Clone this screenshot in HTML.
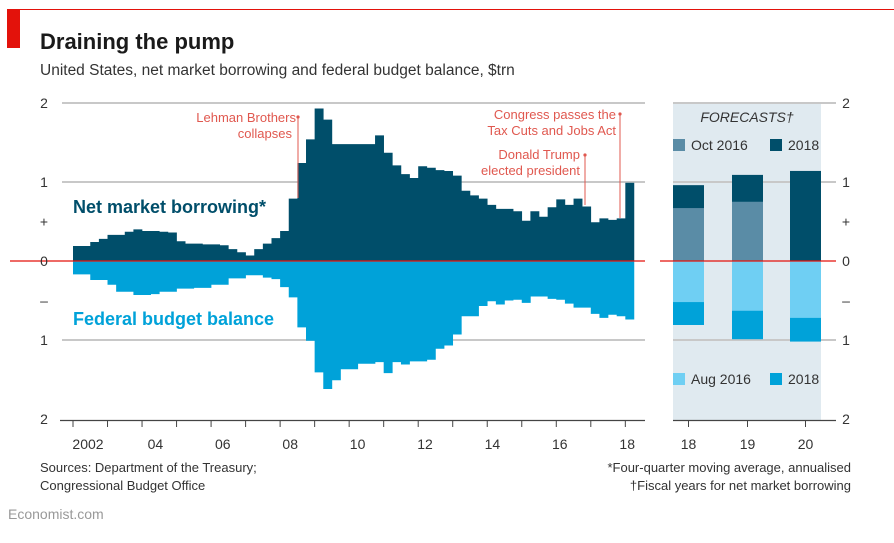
<!DOCTYPE html>
<html><head><meta charset="utf-8"><style>
body{margin:0;background:#fff;width:894px;height:538px;overflow:hidden;font-family:"Liberation Sans",sans-serif}
svg text{font-family:"Liberation Sans",sans-serif}
</style></head><body>
<svg id="chart" width="894" height="538" xmlns="http://www.w3.org/2000/svg">
<line x1="7" y1="9.5" x2="894" y2="9.5" stroke="#e3120b" stroke-width="1"/>
<rect x="7" y="10" width="13" height="38" fill="#e3120b"/>
<text x="40" y="49" font-size="22" font-weight="bold" fill="#1a1a1a">Draining the pump</text>
<text x="40" y="75" font-size="15.5" fill="#333">United States, net market borrowing and federal budget balance, $trn</text>
<rect x="673" y="103" width="148" height="317" fill="#e0eaf0"/>
<g id="grid"></g>
<g id="bars"></g>
<g id="fbars"></g>
<g id="axes"></g>
<text x="296" y="122" font-size="13" fill="#e0584f" text-anchor="end">Lehman Brothers</text>
<text x="292" y="138" font-size="13" fill="#e0584f" text-anchor="end">collapses</text>
<line x1="298" y1="117" x2="298" y2="198" stroke="#e0584f"/>
<circle cx="298" cy="117" r="1.6" fill="#e0584f"/>
<text x="616" y="119" font-size="13" fill="#e0584f" text-anchor="end">Congress passes the</text>
<text x="616" y="135" font-size="13" fill="#e0584f" text-anchor="end">Tax Cuts and Jobs Act</text>
<line x1="620" y1="114" x2="620" y2="218" stroke="#e0584f"/>
<circle cx="620" cy="114" r="1.6" fill="#e0584f"/>
<text x="580" y="159" font-size="13" fill="#e0584f" text-anchor="end">Donald Trump</text>
<text x="580" y="175" font-size="13" fill="#e0584f" text-anchor="end">elected president</text>
<line x1="585" y1="155" x2="585" y2="205" stroke="#e0584f"/>
<circle cx="585" cy="155" r="1.6" fill="#e0584f"/>
<text x="73" y="213" font-size="18" font-weight="bold" fill="#004e6a">Net market borrowing*</text>
<text x="73" y="325" font-size="18" font-weight="bold" fill="#00a2d9">Federal budget balance</text>
<text x="747" y="122" font-size="14" font-style="italic" fill="#333" text-anchor="middle">FORECASTS†</text>
<rect x="673" y="139" width="12" height="12" fill="#5a8ca6"/>
<text x="691" y="150" font-size="14" fill="#333">Oct 2016</text>
<rect x="770" y="139" width="12" height="12" fill="#004e6a"/>
<text x="788" y="150" font-size="14" fill="#333">2018</text>
<rect x="673" y="373" width="12" height="12" fill="#6fcff3"/>
<text x="691" y="384" font-size="14" fill="#333">Aug 2016</text>
<rect x="770" y="373" width="12" height="12" fill="#00a2d9"/>
<text x="788" y="384" font-size="14" fill="#333">2018</text>
<text x="40" y="472" font-size="13" fill="#333">Sources: Department of the Treasury;</text>
<text x="40" y="490" font-size="13" fill="#333">Congressional Budget Office</text>
<text x="851" y="472" font-size="13" fill="#333" text-anchor="end">*Four-quarter moving average, annualised</text>
<text x="851" y="490" font-size="13" fill="#333" text-anchor="end">†Fiscal years for net market borrowing</text>
<text x="8" y="519" font-size="14" fill="#999">Economist.com</text>
</svg>
<script>
const borrowing=[0.19,0.19,0.24,0.28,0.33,0.33,0.37,0.40,0.38,0.38,0.37,0.36,0.25,0.22,0.22,0.21,0.21,0.20,0.15,0.11,0.07,0.15,0.22,0.29,0.38,0.79,1.24,1.54,1.93,1.79,1.48,1.48,1.48,1.48,1.48,1.59,1.37,1.21,1.10,1.05,1.20,1.18,1.15,1.14,1.08,0.89,0.83,0.79,0.71,0.66,0.66,0.63,0.51,0.63,0.56,0.68,0.78,0.71,0.79,0.69,0.49,0.54,0.52,0.54,0.99];
const budget=[-0.17,-0.17,-0.24,-0.24,-0.30,-0.39,-0.39,-0.43,-0.43,-0.42,-0.39,-0.39,-0.35,-0.35,-0.34,-0.34,-0.30,-0.30,-0.22,-0.22,-0.18,-0.18,-0.21,-0.23,-0.33,-0.46,-0.84,-1.01,-1.41,-1.62,-1.51,-1.37,-1.37,-1.30,-1.30,-1.28,-1.42,-1.28,-1.31,-1.27,-1.27,-1.25,-1.11,-1.07,-0.93,-0.70,-0.70,-0.57,-0.51,-0.55,-0.50,-0.49,-0.53,-0.45,-0.45,-0.48,-0.49,-0.54,-0.59,-0.59,-0.67,-0.72,-0.68,-0.70,-0.74];
const yearLabels=["2002","04","06","08","10","12","14","16","18"];
const fcYears=["18","19","20"];
const fcBorrow2018=[0.96,1.09,1.14];
const fcBorrowOct2016=[0.67,0.75,0];
const fcBudget2018=[-0.81,-0.99,-1.02];
const fcBudgetAug2016=[-0.52,-0.63,-0.72];
const yTicks=[2,1,0.5,0,-0.5,-1,-2];
const yTickText=["2","1","+","0","–","1","2"];

const NS="http://www.w3.org/2000/svg";
const y=v=>261-v*79;
const x0=73, qw=8.63;
const xq=i=>x0+i*qw;
const xYear=yr=>x0+(yr-2002)*qw*4;
function mk(tag,attrs,parent){const e=document.createElementNS(NS,tag);for(const k in attrs)e.setAttribute(k,attrs[k]);document.getElementById(parent).appendChild(e);return e;}

[2,1,-1].forEach(v=>{
  const g=mk('line',{x1:62,x2:645,y1:y(v),y2:y(v),stroke:'#c8c8c8','stroke-width':2},'grid');
  
  
  const g2=mk('line',{x1:673,x2:836,y1:y(v),y2:y(v),stroke:'#c8c8c8','stroke-width':2},'grid');
  
  
});
function path(vals,fill,name){
  let d='';
  vals.forEach((v,i)=>{d+=`M${xq(i)},${y(0)}V${y(v)}H${xq(i+1)+0.3}V${y(0)}Z`;});
  const p=mk('path',{d:d,fill:fill},'bars');
  
  
}
path(borrowing,'#004e6a','net-borrowing-bars');
path(budget,'#00a2d9','budget-balance-bars');
const fx=[673,732,790], fw=31;
fcYears.forEach((yr,i)=>{
  const add=(v,fill,name)=>{if(!v)return;const r=mk('rect',{x:fx[i],width:fw,y:Math.min(y(v),y(0)),height:Math.abs(y(v)-y(0)),fill:fill},'fbars');
    
    };
  add(fcBorrow2018[i],'#004e6a','forecast-borrowing-2018-'+yr);
  add(fcBorrowOct2016[i],'#5a8ca6','forecast-borrowing-oct2016-'+yr);
  add(fcBudget2018[i],'#00a2d9','forecast-budget-2018-'+yr);
  add(fcBudgetAug2016[i],'#6fcff3','forecast-budget-aug2016-'+yr);
});
let z=mk('line',{x1:10,x2:645,y1:y(0),y2:y(0),stroke:'#e3120b','stroke-width':1.2},'axes');


z=mk('line',{x1:660,x2:836,y1:y(0),y2:y(0),stroke:'#e3120b','stroke-width':1.2},'axes');


let a=mk('line',{x1:60,x2:645,y1:420.5,y2:420.5,stroke:'#444','stroke-width':1.2},'axes');


a=mk('line',{x1:673,x2:836,y1:420.5,y2:420.5,stroke:'#444','stroke-width':1.2},'axes');


for(let yr=2002;yr<=2018;yr++){
  const t=mk('line',{x1:xYear(yr),x2:xYear(yr),y1:420,y2:427,stroke:'#444'},'axes');
  
  
}
yearLabels.forEach((l,i)=>{
  const t=mk('text',{x:88+i*67.4,y:449,'font-size':14,fill:'#333','text-anchor':'middle'},'axes');
  t.textContent=l;
  
  
});
fcYears.forEach((l,i)=>{
  const cx=fx[i]+fw/2;
  const t=mk('line',{x1:cx,x2:cx,y1:420,y2:427,stroke:'#444'},'axes');
  
  
  const tx=mk('text',{x:cx,y:449,'font-size':14,fill:'#333','text-anchor':'middle'},'axes');
  tx.textContent=l;
  
  
});
yTicks.forEach((v,i)=>{
  const t=mk('text',{x:44,y:y(v)+5,'font-size':14,fill:'#333','text-anchor':'middle'},'axes');
  t.textContent=yTickText[i];
  
  
  const t2=mk('text',{x:846,y:y(v)+5,'font-size':14,fill:'#333','text-anchor':'middle'},'axes');
  t2.textContent=yTickText[i];
  
  
});
</script>
</body></html>
